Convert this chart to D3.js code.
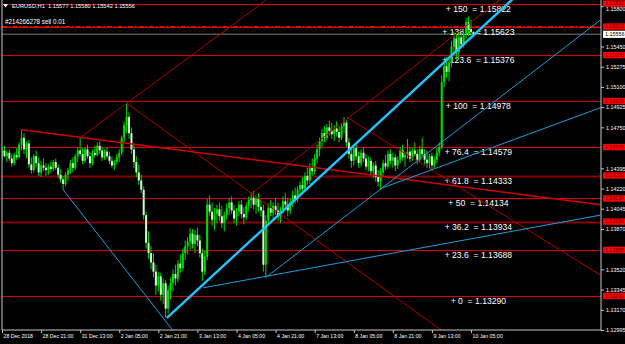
<!DOCTYPE html>
<html>
<head>
<meta http-equiv="Content-type" content="text/html; charset=utf-8">
<title>EURUSD,H1</title>
<script src="https://cdn.jsdelivr.net/npm/d3@7"></script>
<style>
  body { margin:0; background:#000; }
  svg { display:block; font-family:"Liberation Sans", Arial, sans-serif; }
</style>
</head>
<body>
<svg id="chart" width="625" height="344"></svg>
<script type="text/javascript">

// H1 bars, index 0 = 28 Dec 2018 05:00
var opens = [
1.1452,1.1455,1.1450,1.1453,1.1448,1.1444,1.1451,1.1449,1.1460,1.1466,
1.1456,1.1461,1.1443,1.1438,1.1450,1.1444,1.1436,1.1442,1.1440,1.1438,
1.1441,1.1439,1.1445,1.1440,1.1434,1.1430,1.1426,1.1434,1.1438,1.1444,
1.1440,1.1450,1.1455,1.1452,1.1446,1.1456,1.1450,1.1444,1.1453,1.1451,
1.1459,1.1455,1.1449,1.1454,1.1450,1.1446,1.1442,1.1445,1.1449,1.1453,
1.1466,1.1477,1.1484,1.1470,1.1456,1.1445,1.1436,1.1429,1.1421,1.1399,
1.1375,1.1366,1.1358,1.1350,1.1338,1.1346,1.1330,1.1340,1.1318,1.1334,
1.1340,1.1348,1.1344,1.1357,1.1353,1.1366,1.1372,1.1376,1.1383,1.1374,
1.1382,1.1377,1.1366,1.1350,1.1363,1.1408,1.1402,1.1395,1.1400,1.1404,
1.1398,1.1392,1.1399,1.1405,1.1410,1.1403,1.1396,1.1402,1.1408,1.1400,
1.1397,1.1407,1.1412,1.1414,1.1408,1.1413,1.1406,1.1403,1.1356,1.1394,
1.1405,1.1401,1.1407,1.1403,1.1398,1.1404,1.1411,1.1408,1.1403,1.1410,
1.1416,1.1413,1.1421,1.1425,1.1422,1.1433,1.1429,1.1440,1.1437,1.1448,
1.1456,1.1463,1.1470,1.1466,1.1475,1.1472,1.1469,1.1474,1.1471,1.1466,
1.1476,1.1479,1.1462,1.1452,1.1446,1.1457,1.1450,1.1444,1.1453,1.1448,
1.1441,1.1446,1.1437,1.1442,1.1432,1.1428,1.1436,1.1444,1.1441,1.1452,
1.1446,1.1449,1.1442,1.1447,1.1455,1.1449,1.1451,1.1454,1.1448,1.1455,
1.1452,1.1447,1.1456,1.1452,1.1447,1.1444,1.1450,1.1442,1.1447,1.1453,
1.1458,1.1514,1.1528,1.1523,1.1531,1.1545,1.1552,1.1540,1.1553,1.1547,
1.1556,1.1566,1.1560,1.15577];

var highs = [
1.1458,1.1459,1.1455,1.1456,1.1452,1.1453,1.1457,1.1462,1.1473,1.1470,
1.1463,1.1464,1.1449,1.1452,1.1455,1.1449,1.1446,1.1448,1.1444,1.1443,
1.1446,1.1447,1.1448,1.1443,1.1439,1.1433,1.1436,1.1440,1.1447,1.1449,
1.1452,1.1458,1.1466,1.1457,1.1458,1.1460,1.1454,1.1456,1.1459,1.1462,
1.1463,1.1458,1.1456,1.1458,1.1454,1.1450,1.1447,1.1452,1.1456,1.1468,
1.1480,1.1496,1.1488,1.1475,1.1461,1.1450,1.1443,1.1434,1.1424,1.1402,
1.1385,1.1372,1.1366,1.1356,1.1350,1.1349,1.1344,1.1343,1.1338,1.1345,
1.1352,1.1356,1.1360,1.1365,1.1370,1.1377,1.1380,1.1388,1.1387,1.1386,
1.1388,1.1382,1.1370,1.1368,1.1413,1.1416,1.1410,1.1405,1.1408,1.1410,
1.1407,1.1402,1.1409,1.1414,1.1415,1.1408,1.1405,1.1411,1.1412,1.1406,
1.1410,1.1415,1.1419,1.1420,1.1416,1.1418,1.1412,1.1408,1.1399,1.1409,
1.1412,1.1410,1.1414,1.1410,1.1406,1.1415,1.1418,1.1414,1.1413,1.1420,
1.1423,1.1424,1.1428,1.1432,1.1436,1.1440,1.1444,1.1448,1.1452,1.1460,
1.1466,1.1474,1.1476,1.1478,1.1481,1.1479,1.1477,1.1480,1.1476,1.1478,
1.1484,1.1481,1.1466,1.1457,1.1460,1.1462,1.1454,1.1456,1.1458,1.1452,
1.1450,1.1449,1.1445,1.1446,1.1438,1.1440,1.1447,1.1451,1.1455,1.1456,
1.1453,1.1452,1.1450,1.1458,1.1460,1.1454,1.1465,1.1458,1.1457,1.1462,
1.1456,1.1459,1.1466,1.1456,1.1455,1.1452,1.1453,1.1450,1.1457,1.1462,
1.1520,1.1533,1.1536,1.1534,1.1550,1.1558,1.1556,1.1557,1.1558,1.1560,
1.1570,1.1571,1.1568,1.15580];

var lows = [
1.1446,1.1449,1.1445,1.1446,1.1441,1.1442,1.1447,1.1448,1.1455,1.1452,
1.1448,1.1440,1.1435,1.1436,1.1441,1.1433,1.1432,1.1437,1.1433,1.1434,
1.1436,1.1437,1.1438,1.1431,1.1427,1.1421,1.1424,1.1429,1.1435,1.1436,
1.1438,1.1445,1.1450,1.1443,1.1444,1.1448,1.1440,1.1442,1.1449,1.1450,
1.1452,1.1446,1.1447,1.1448,1.1443,1.1440,1.1438,1.1443,1.1445,1.1451,
1.1462,1.1470,1.1465,1.1452,1.1440,1.1432,1.1425,1.1418,1.1395,1.1370,
1.1361,1.1352,1.1345,1.1330,1.1333,1.1325,1.1322,1.1310,1.1314,1.1326,
1.1333,1.1338,1.1341,1.1349,1.1351,1.1360,1.1365,1.1369,1.1370,1.1366,
1.1372,1.1362,1.1342,1.1347,1.1360,1.1398,1.1390,1.1386,1.1392,1.1394,
1.1388,1.1385,1.1395,1.1399,1.1400,1.1392,1.1390,1.1398,1.1396,1.1391,
1.1395,1.1402,1.1405,1.1404,1.1400,1.1402,1.1398,1.1350,1.1345,1.1390,
1.1398,1.1395,1.1399,1.1394,1.1392,1.1400,1.1404,1.1398,1.1400,1.1406,
1.1409,1.1410,1.1415,1.1418,1.1420,1.1425,1.1426,1.1433,1.1434,1.1444,
1.1450,1.1458,1.1462,1.1464,1.1468,1.1465,1.1463,1.1467,1.1462,1.1464,
1.1470,1.1458,1.1448,1.1440,1.1442,1.1447,1.1440,1.1441,1.1445,1.1438,
1.1437,1.1434,1.1431,1.1428,1.1424,1.1421,1.1433,1.1438,1.1439,1.1443,
1.1440,1.1437,1.1439,1.1444,1.1446,1.1441,1.1448,1.1445,1.1446,1.1450,
1.1443,1.1445,1.1450,1.1443,1.1440,1.1439,1.1438,1.1440,1.1444,1.1450,
1.1456,1.1510,1.1518,1.1515,1.1527,1.1538,1.1533,1.1536,1.1543,1.1544,
1.1552,1.1554,1.1555,1.15542];

var closes = [
1.1455,1.1450,1.1453,1.1448,1.1444,1.1451,1.1449,1.1460,1.1466,1.1456,
1.1461,1.1443,1.1438,1.1450,1.1444,1.1436,1.1442,1.1440,1.1438,1.1441,
1.1439,1.1445,1.1440,1.1434,1.1430,1.1426,1.1434,1.1438,1.1444,1.1440,
1.1450,1.1455,1.1452,1.1446,1.1456,1.1450,1.1444,1.1453,1.1451,1.1459,
1.1455,1.1449,1.1454,1.1450,1.1446,1.1442,1.1445,1.1449,1.1453,1.1466,
1.1477,1.1484,1.1470,1.1456,1.1445,1.1436,1.1429,1.1421,1.1399,1.1375,
1.1366,1.1358,1.1350,1.1338,1.1346,1.1330,1.1340,1.1318,1.1334,1.1340,
1.1348,1.1344,1.1357,1.1353,1.1366,1.1372,1.1376,1.1383,1.1374,1.1382,
1.1377,1.1366,1.1350,1.1363,1.1408,1.1402,1.1395,1.1400,1.1404,1.1398,
1.1392,1.1399,1.1405,1.1410,1.1403,1.1396,1.1402,1.1408,1.1400,1.1397,
1.1407,1.1412,1.1414,1.1408,1.1413,1.1406,1.1403,1.1356,1.1394,1.1405,
1.1401,1.1407,1.1403,1.1398,1.1404,1.1411,1.1408,1.1403,1.1410,1.1416,
1.1413,1.1421,1.1425,1.1422,1.1433,1.1429,1.1440,1.1437,1.1448,1.1456,
1.1463,1.1470,1.1466,1.1475,1.1472,1.1469,1.1474,1.1471,1.1466,1.1476,
1.1479,1.1462,1.1452,1.1446,1.1457,1.1450,1.1444,1.1453,1.1448,1.1441,
1.1446,1.1437,1.1442,1.1432,1.1428,1.1436,1.1444,1.1441,1.1452,1.1446,
1.1449,1.1442,1.1447,1.1455,1.1449,1.1451,1.1454,1.1448,1.1455,1.1452,
1.1447,1.1456,1.1452,1.1447,1.1444,1.1450,1.1442,1.1447,1.1453,1.1458,
1.1514,1.1528,1.1523,1.1531,1.1545,1.1552,1.1540,1.1553,1.1547,1.1556,
1.1566,1.1560,1.15577,1.15556];

var timeTickIdx = [0,16,32,48,64,80,96,112,128,144,160,176,192];
var timeTickLabels = ["28 Dec 2018","28 Dec 21:00","31 Dec 13:00","2 Jan 05:00","2 Jan 21:00",
  "3 Jan 13:00","4 Jan 05:00","4 Jan 21:00","7 Jan 13:00","8 Jan 05:00","8 Jan 21:00",
  "9 Jan 13:00","10 Jan 05:00"];

var priceTicks = [1.15800,1.15450,1.15275,1.15100,1.14925,1.14750,1.14395,1.14220,
  1.14045,1.13870,1.13520,1.13345,1.13170,1.12995];

var fibLevels = ["0","23.6","36.2","50","61.8","76.4","100","123.6","138.2","150"];
var fibPrices = [1.13290,1.13688,1.13934,1.14134,1.14333,1.14579,1.14978,1.15376,1.15623,1.15822];

// drawn objects: [bar index, price] pairs
var redLines = [
  [[8,1.1473],[245,1.1408]],
  [[51,1.1496],[182,1.1296]],
  [[32,1.1466],[108,1.1585]],
  [[103,1.1419],[204,1.1586]],
  [[141,1.1484],[245,1.1347]]
];
var blueLines = [
  [[25,1.1421],[70,1.1299]],
  [[82.3,1.1336],[245,1.1399]],
  [[108,1.1345],[245,1.1568]],
  [[155,1.1422],[245,1.1492]]
];
var blueMain = [[67.5,1.1310],[209,1.1586]];

var symbolTitle = "EURUSD,H1  1.15577 1.15580 1.15542 1.15556";
var orderText = "#214266278 sell 0.01";
var orderPrice = 1.15623;
var bidPrice = 1.15556;

var W = 625, H = 344;
var plotL = 2, plotR = 601, plotB = 330;

var x = d3.scaleLinear().domain([0, 244.8]).range([2, 600]);
var y = d3.scaleLinear().domain([1.12995, 1.15853]).range([plotB, 0]);

var svg = d3.select("#chart");

function init() {
  svg.append("rect").attr("width", W).attr("height", H).attr("fill", "#000");
  svg.append("defs").append("clipPath").attr("id", "plotclip")
    .append("rect").attr("x", plotL).attr("y", 0).attr("width", plotR - plotL).attr("height", plotB);

  drawLevels();
  drawCandles();
  drawObjects();
  drawAxes();
  drawTexts();
}

function drawLevels() {
  var g = svg.append("g").attr("clip-path", "url(#plotclip)");
  var lv = fibLevels.map(function (l, i) { return {level: l, price: fibPrices[i]}; });

  g.selectAll(".fib").data(lv).enter().append("line")
    .attr("x1", plotL).attr("x2", plotR)
    .attr("y1", function (d) { return Math.round(y(d.price)) + 0.5; })
    .attr("y2", function (d) { return Math.round(y(d.price)) + 0.5; })
    .attr("stroke", function (d) { return (d.level == "61.8" || d.level == "36.2") ? "#8a0000" : "#d80000"; })
    .attr("stroke-width", function (d) { return (d.level == "61.8" || d.level == "36.2") ? 2 : 1.2; });

  // bid line
  g.append("line").attr("x1", plotL).attr("x2", plotR)
    .attr("y1", y(bidPrice)).attr("y2", y(bidPrice))
    .attr("stroke", "#555").attr("stroke-width", 1.6);

  // order line
  g.append("line").attr("x1", plotL).attr("x2", plotR)
    .attr("y1", y(orderPrice)).attr("y2", y(orderPrice))
    .attr("stroke", "#ff0000").attr("stroke-width", 1.2)
    .attr("stroke-dasharray", "5,2,1.5,2");

  g.selectAll(".fibtxt").data(lv).enter().append("text")
    .attr("x", x(195)).attr("y", function (d) { return y(d.price) + 8; })
    .attr("text-anchor", "middle").attr("fill", "#fff")
    .attr("font-size", "8.6px")
    .attr("xml:space", "preserve")
    .text(function (d) { return "+ " + d.level + "  = " + d.price.toFixed(5); });
}

function drawCandles() {
  var bars = opens.map(function (o, i) {
    return {i: i, o: o, h: highs[i], l: lows[i], c: closes[i]};
  });
  var g = svg.append("g").attr("clip-path", "url(#plotclip)");

  g.selectAll(".wick").data(bars).enter().append("line")
    .attr("x1", function (d) { return x(d.i); })
    .attr("x2", function (d) { return x(d.i); })
    .attr("y1", function (d) { return y(d.h); })
    .attr("y2", function (d) { return y(d.l); })
    .attr("stroke", "#00d800").attr("stroke-width", 1);

  g.selectAll(".body").data(bars).enter().append("rect")
    .attr("x", function (d) { return x(d.i) - 1; })
    .attr("width", 2)
    .attr("y", function (d) { return y(Math.max(d.o, d.c)); })
    .attr("height", function (d) { return Math.max(0.8, Math.abs(y(d.o) - y(d.c))); })
    .attr("fill", function (d) { return d.c >= d.o ? "#00e000" : "#c8ffc8"; })
    .attr("stroke", "none");
}

function drawObjects() {
  var g = svg.append("g").attr("clip-path", "url(#plotclip)");
  var ln = d3.line().x(function (d) { return x(d[0]); }).y(function (d) { return y(d[1]); });

  g.selectAll(".red").data(redLines).enter().append("path")
    .attr("d", ln).attr("fill", "none")
    .attr("stroke", function (d, i) { return i == 0 ? "#d00000" : "#b00000"; })
    .attr("stroke-width", function (d, i) { return i == 0 ? 1.5 : 1; });

  g.selectAll(".blue").data(blueLines).enter().append("path")
    .attr("d", ln).attr("fill", "none")
    .attr("stroke", "#1aa0e0").attr("stroke-width", 1);

  g.append("path").datum(blueMain).attr("d", ln).attr("fill", "none")
    .attr("stroke", "#22c4ff").attr("stroke-width", 2.4);
}

function drawAxes() {
  // frame
  svg.append("line").attr("x1", plotL).attr("x2", plotL).attr("y1", 0).attr("y2", plotB)
    .attr("stroke", "#c8c8c8").attr("stroke-width", 1);
  svg.append("line").attr("x1", plotR).attr("x2", plotR).attr("y1", 0).attr("y2", plotB)
    .attr("stroke", "#c8c8c8").attr("stroke-width", 1);
  svg.append("line").attr("x1", plotL).attr("x2", plotR).attr("y1", plotB).attr("y2", plotB)
    .attr("stroke", "#c8c8c8").attr("stroke-width", 1);

  var ya = svg.append("g").attr("transform", "translate(" + plotR + ",0)")
    .call(d3.axisRight(y).tickValues(priceTicks).tickSize(3).tickPadding(2)
      .tickFormat(d3.format(".5f")));
  ya.select(".domain").remove();
  ya.selectAll("line").attr("stroke", "#c8c8c8");
  ya.selectAll("text").attr("fill", "#fff").attr("font-size", "5.4px")
    .attr("font-family", "Liberation Sans, Arial, sans-serif");
  // top tick sits just under the 150 level box
  ya.selectAll("text").filter(function (d) { return d == priceTicks[0]; }).attr("dy", "0.85em");

  var xa = svg.append("g").attr("transform", "translate(0," + plotB + ")")
    .call(d3.axisBottom(x).tickValues(timeTickIdx).tickSize(3).tickPadding(1)
      .tickFormat(function (d, i) { return timeTickLabels[i]; }));
  xa.select(".domain").remove();
  xa.selectAll("line").attr("stroke", "#c8c8c8");
  xa.selectAll("text").attr("fill", "#fff").attr("font-size", "5.2px")
    .attr("text-anchor", "start").attr("dx", "1")
    .attr("font-family", "Liberation Sans, Arial, sans-serif");

  // level price boxes
  var boxes = svg.append("g");
  var bx = boxes.selectAll(".lvbox").data(fibPrices).enter().append("g")
    .attr("transform", function (d) { return "translate(603," + y(d) + ")"; });
  bx.append("rect").attr("x", 0).attr("y", -3.2).attr("width", 22).attr("height", 6.4)
    .attr("fill", "#ff0000");
  bx.append("text").attr("x", 2).attr("y", 1.9).attr("font-size", "5.2px")
    .attr("fill", "#6a0000").text(function (d) { return d.toFixed(5); });

  var bid = boxes.append("g").attr("transform", "translate(603," + y(bidPrice) + ")");
  bid.append("rect").attr("x", 0).attr("y", -3.6).attr("width", 22).attr("height", 7.2)
    .attr("fill", "#fff");
  bid.append("text").attr("x", 2).attr("y", 2).attr("font-size", "5.4px")
    .attr("fill", "#000").text(bidPrice.toFixed(5));
}

function drawTexts() {
  svg.append("path").attr("d", "M3,4 L8,4 L5.5,7.5 Z").attr("fill", "#fff");
  svg.append("text").attr("x", 12).attr("y", 8).attr("fill", "#fff")
    .attr("font-size", "5.7px").attr("xml:space", "preserve").text(symbolTitle);
  svg.append("text").attr("x", 5).attr("y", 24).attr("fill", "#fff")
    .attr("font-size", "6.3px").text(orderText);
}

init();

</script>
</body>
</html>
